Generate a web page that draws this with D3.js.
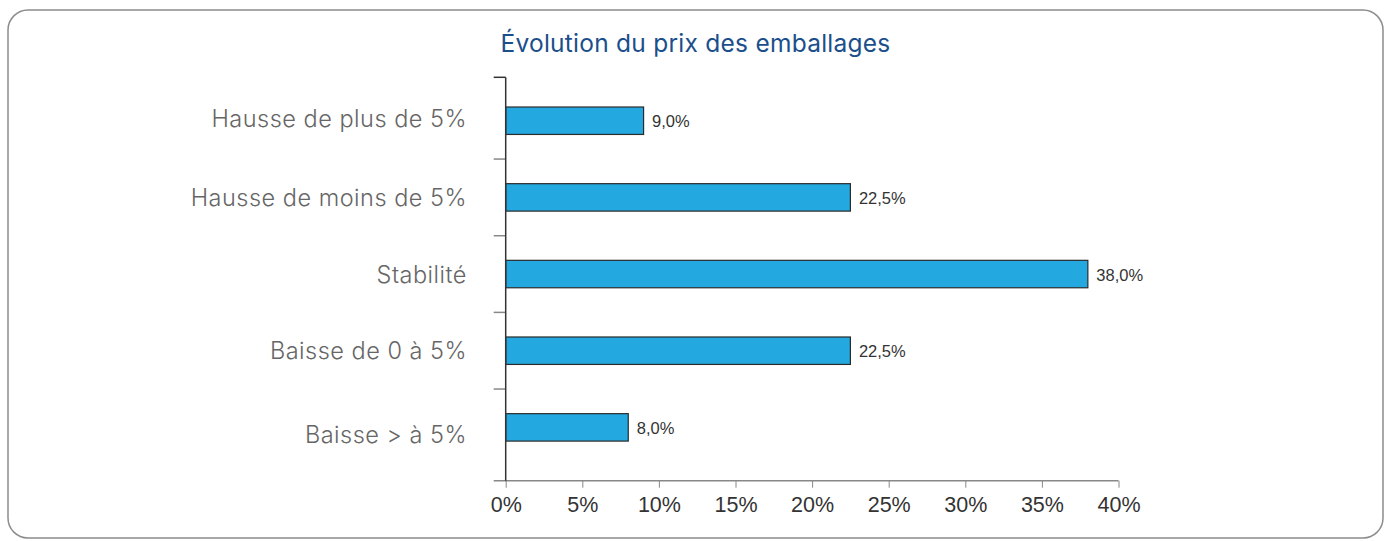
<!DOCTYPE html>
<html>
  <head>
    <meta charset="utf-8" />
    <title>Évolution du prix des emballages</title>
    <script src="https://d3js.org/d3.v7.min.js"></script>
    <style>
      body {
        margin: 0;
        background: #fff;
      }
      svg {
        display: block;
      }
      .frame {
        fill: none;
        stroke: #8c8c8c;
        stroke-width: 1.5px;
      }
      .title {
        fill: #1b4f8c;
        font-family: Inter, "Liberation Sans", sans-serif;
        font-size: 24.5px;
        letter-spacing: 0.25px;
        text-anchor: middle;
      }
      .cat {
        fill: #666;
        font-family: Inter, "Liberation Sans", sans-serif;
        font-weight: 300;
        font-size: 23.5px;
        letter-spacing: 0.5px;
        text-anchor: end;
      }
      .bar {
        fill: #23a8e0;
        stroke: #2b2b2b;
        stroke-width: 1.2px;
      }
      .val {
        fill: #333;
        font-family: "Liberation Sans", Arial, sans-serif;
        font-size: 16.5px;
      }
      .x-axis text {
        fill: #333;
        font-family: "Liberation Sans", Arial, sans-serif;
        font-size: 21.5px;
      }
      .x-axis line {
        stroke: #888;
      }
    </style>
  </head>
  <body>
    <svg width="1389" height="541"></svg>
    <script>
      // données
      const categories = [
        "Hausse de plus de 5%",
        "Hausse de moins de 5%",
        "Stabilité",
        "Baisse de 0 à 5%",
        "Baisse > à 5%",
      ];
      const values = [9.0, 22.5, 38.0, 22.5, 8.0];
      const xTicks = [0, 5, 10, 15, 20, 25, 30, 35, 40];
      const title = "Évolution du prix des emballages";

      const svg = d3.select("svg");

      // cadre arrondi
      svg
        .append("rect")
        .attr("class", "frame")
        .attr("x", 8)
        .attr("y", 10)
        .attr("width", 1375)
        .attr("height", 528)
        .attr("rx", 20);

      svg
        .append("text")
        .attr("class", "title")
        .attr("x", 695.5)
        .attr("y", 52)
        .text(title);

      // zone du graphique
      const plotTop = 77.3,
        plotBottom = 480.7;

      const x = d3.scaleLinear().domain([0, 40]).range([505.7, 1118.5]);

      const y = d3
        .scaleBand()
        .domain(categories)
        .range([82.4, 465.7])
        .paddingInner(0.642)
        .paddingOuter(0.321);

      // limites des catégories (ticks de l'axe vertical)
      const r0 = y(categories[0]) - y.step() * y.paddingInner() / 2;
      const bounds = categories.map((c, i) => r0 + i * y.step());
      bounds[0] = plotTop;
      bounds.push(plotBottom);

      const fmt = d3.format(".1f");

      // barres
      svg
        .selectAll(".bar")
        .data(values)
        .enter()
        .append("rect")
        .attr("class", "bar")
        .attr("x", x(0))
        .attr("y", (d, i) => y(categories[i]))
        .attr("width", (d) => x(d) - x(0))
        .attr("height", y.bandwidth());

      svg
        .selectAll(".val")
        .data(values)
        .enter()
        .append("text")
        .attr("class", "val")
        .attr("x", (d) => x(d) + 8.5)
        .attr("y", (d, i) => y(categories[i]) + y.bandwidth() / 2 + 6.5)
        .text((d) => fmt(d).replace(".", ",") + "%");

      // axe horizontal
      const xAxis = svg
        .append("g")
        .attr("class", "x-axis")
        .attr("transform", `translate(0,${plotBottom})`)
        .call(
          d3
            .axisBottom(x)
            .tickValues(xTicks)
            .tickSize(7)
            .tickPadding(8.7)
            .tickFormat((d) => d + "%")
        );
      xAxis.select(".domain").remove();
      xAxis.selectAll("text").attr("font-size", null).attr("font-family", null);

      svg
        .append("line")
        .attr("x1", x(0) - 12)
        .attr("x2", x(40))
        .attr("y1", plotBottom)
        .attr("y2", plotBottom)
        .attr("stroke", "#888")
        .attr("stroke-width", 1.5);

      // axe vertical
      svg
        .selectAll(".ytick")
        .data(bounds.slice(0, -1))
        .enter()
        .append("line")
        .attr("class", "ytick")
        .attr("x1", x(0) - 12)
        .attr("x2", x(0))
        .attr("y1", (d) => d)
        .attr("y2", (d) => d)
        .attr("stroke", (d, i) => (i === 0 ? "#333" : "#888"))
        .attr("stroke-width", 1.5);

      svg
        .append("line")
        .attr("x1", x(0))
        .attr("x2", x(0))
        .attr("y1", plotTop)
        .attr("y2", plotBottom)
        .attr("stroke", "#333")
        .attr("stroke-width", 1.5);

      // libellés des catégories, centrés entre les ticks
      svg
        .selectAll(".cat")
        .data(categories)
        .enter()
        .append("text")
        .attr("class", "cat")
        .attr("x", 467)
        .attr("y", (d, i) => (bounds[i] + bounds[i + 1]) / 2)
        .attr("dy", "0.36em")
        .text((d) => d);
    </script>
  </body>
</html>
